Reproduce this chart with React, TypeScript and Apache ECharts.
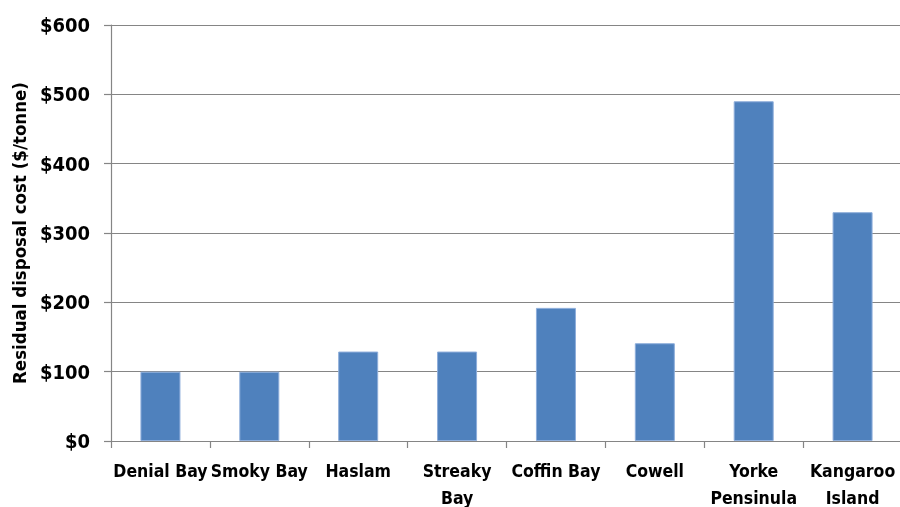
import React, { useEffect, useRef } from "react";
import * as echarts from "echarts";

const categories = ["Denial Bay", "Smoky Bay", "Haslam", "Streaky\nBay", "Coffin Bay", "Cowell", "Yorke\nPensinula", "Kangaroo\nIsland"];
const costs = [100, 100, 129, 129, 192, 141, 490, 330];
const yTicks = { min: 0, max: 600, interval: 100 };
const yTitle = "Residual disposal cost ($/tonne)";

const FONT = "'DejaVu Sans Condensed', 'Liberation Sans', sans-serif";

export default function App() {
  const ref = useRef<HTMLDivElement>(null);
  useEffect(() => {
    const chart = echarts.init(ref.current!, null, { renderer: "svg" });
    chart.setOption({
      animation: false,
      grid: { left: 111, top: 25, width: 791, height: 416, containLabel: false, outerBoundsMode: "none" },
      xAxis: {
        type: "category",
        data: categories,
        axisLine: { lineStyle: { color: "#858585", width: 1.2 } },
        axisTick: { show: true, length: 7, alignWithLabel: false, lineStyle: { color: "#858585", width: 1.2 } },
        axisLabel: {
          color: "#000",
          fontFamily: FONT,
          fontWeight: "bold",
          fontSize: 17.5,
          lineHeight: 27,
          margin: 16,
          interval: 0,
        },
      },
      yAxis: {
        type: "value",
        min: yTicks.min,
        max: yTicks.max,
        interval: yTicks.interval,
        name: yTitle,
        nameLocation: "middle",
        nameGap: 80,
        nameTextStyle: { color: "#000", fontFamily: FONT, fontWeight: "bold", fontSize: 18.5 },
        axisLine: { show: true, lineStyle: { color: "#858585", width: 1.2 } },
        axisTick: { show: true, length: 7, lineStyle: { color: "#858585", width: 1.2 } },
        splitLine: { lineStyle: { color: "#858585", width: 1.2 } },
        axisLabel: {
          color: "#000",
          fontFamily: FONT,
          fontWeight: "bold",
          fontSize: 20,
          margin: 21,
          formatter: (v: number) => "$" + v,
        },
      },
      series: [
        {
          type: "bar",
          data: costs,
          barWidth: 40,
          itemStyle: { color: "#4F81BD", borderColor: "#8eaedb", borderWidth: 1 },
        },
      ],
    });
    return () => chart.dispose();
  }, []);
  return <div ref={ref} style={{ position: "fixed", left: 0, top: 0, width: 900, height: 507 }} />;
}
